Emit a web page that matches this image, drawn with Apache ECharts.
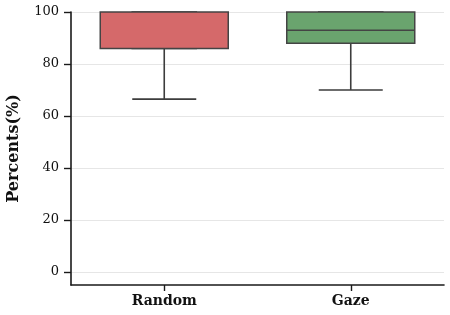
<!DOCTYPE html>
<html><head><meta charset="utf-8">
<script src="https://cdn.jsdelivr.net/npm/echarts@6/dist/echarts.min.js"></script>
<style>html,body{margin:0;padding:0;background:#fff}#c{width:450px;height:315px}</style>
</head><body><div id="c"></div>
<script>
const categories = ['Random', 'Gaze'];
// [min, Q1, median, Q3, max]
const boxValues = [
  [66.5, 86, 100, 100, 100],
  [70, 88, 93, 100, 100]
];
const yTicks = [0, 20, 40, 60, 80, 100];
const colors = ['#d5696a', '#6aa46e'];

const boxOnly = boxValues.map(v => [v[1], v[1], v[2], v[3], v[3]]);
const font = 'DejaVu Serif';
const chart = echarts.init(document.getElementById('c'));
chart.setOption({
  animation: false,
  grid: {left: 71, right: 6, top: 12, bottom: 30, containLabel: false, outerBoundsMode: 'none'},
  xAxis: [{
    type: 'category', data: categories,
    axisLine: {onZero: false, lineStyle: {color: '#1a1a1a', width: 1.6}},
    axisTick: {show: true, alignWithLabel: true, length: 6, lineStyle: {color: '#1a1a1a', width: 1.4}},
    axisLabel: {fontFamily: font, fontWeight: 'bold', fontSize: 14, color: '#111', margin: 9},
    splitLine: {show: false}
  }, {
    type: 'category', data: categories, show: false, position: 'bottom'
  }],
  yAxis: {
    type: 'value', min: -5, max: 100,
    name: 'Percents(%)', nameLocation: 'middle', nameGap: 49,
    nameTextStyle: {fontFamily: font, fontWeight: 'bold', fontSize: 16, color: '#111'},
    axisLine: {show: true, lineStyle: {color: '#1a1a1a', width: 1.6}},
    axisTick: {show: true, length: 7, customValues: yTicks, lineStyle: {color: '#1a1a1a', width: 1.4}},
    axisLabel: {fontFamily: font, fontSize: 13, color: '#111', margin: 12, customValues: yTicks},
    splitLine: {show: true, lineStyle: {color: '#e6e6e6', width: 1}}
  },
  series: [{
    type: 'boxplot', xAxisIndex: 1, z: 1,
    boxWidth: [64, 64],
    data: boxValues,
    itemStyle: {color: '#ffffff', borderColor: '#3d3d3d', borderWidth: 1.6}
  }, {
    type: 'boxplot', xAxisIndex: 0, z: 2,
    boxWidth: [128, 128],
    data: boxOnly.map((v, i) => ({value: v, itemStyle: {color: colors[i]}})),
    itemStyle: {borderColor: '#444444', borderWidth: 1.5}
  }]
});
</script></body></html>
